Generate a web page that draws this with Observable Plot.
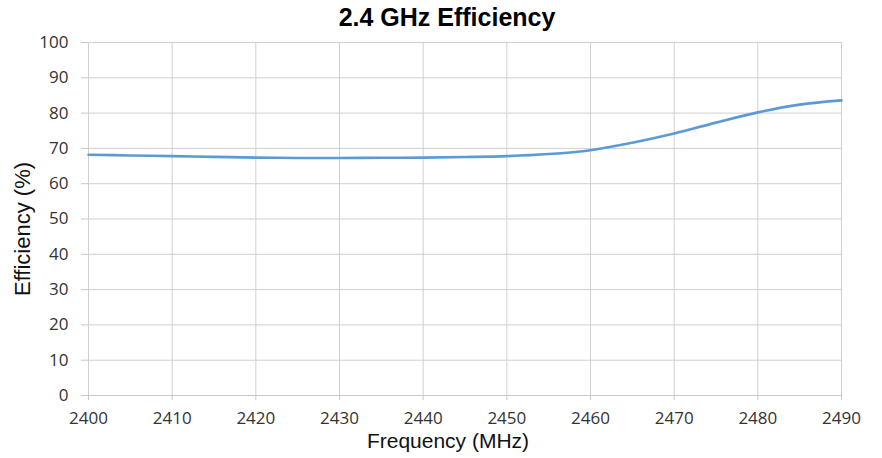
<!DOCTYPE html>
<html>
<head>
<meta charset="utf-8">
<script src="https://cdn.jsdelivr.net/npm/d3@7"></script>
<script src="https://cdn.jsdelivr.net/npm/@observablehq/plot@0.6"></script>
<style>
  html, body { margin: 0; padding: 0; background: #fff; }
  #chart { width: 882px; height: 458px; }
</style>
</head>
<body>
<div id="chart"></div>
<script>
const frequency = [2400, 2405, 2410, 2415, 2420, 2425, 2430, 2435, 2440, 2445, 2450, 2455, 2460, 2465, 2470, 2475, 2480, 2485, 2490];
const efficiency = [68.2, 68.0, 67.8, 67.6, 67.4, 67.3, 67.3, 67.35, 67.4, 67.55, 67.8, 68.4, 69.5, 71.6, 74.2, 77.3, 80.2, 82.4, 83.6];
const xTicks = [2400, 2410, 2420, 2430, 2440, 2450, 2460, 2470, 2480, 2490];
const yTicks = [0, 10, 20, 30, 40, 50, 60, 70, 80, 90, 100];
const title = "2.4 GHz Efficiency";
const xLabel = "Frequency (MHz)";
const yLabel = "Efficiency (%)";

const data = frequency.map((f, i) => ({f, e: efficiency[i]}));

const chart = Plot.plot({
  width: 882,
  height: 458,
  marginTop: 42,
  marginBottom: 63,
  marginLeft: 88,
  marginRight: 41,
  style: {fontFamily: "'Open Sans', 'Liberation Sans', Arial, sans-serif", fontSize: "17px", color: "#333", background: "#fff"},
  x: {domain: [2400, 2490], ticks: xTicks, tickFormat: "d", label: null},
  y: {domain: [0, 100], ticks: yTicks, label: null},
  marks: [
    Plot.gridX(xTicks, {stroke: "#d0d0d0", strokeOpacity: 1, strokeWidth: 1}),
    Plot.gridY(yTicks, {stroke: "#d0d0d0", strokeOpacity: 1, strokeWidth: 1}),
    Plot.axisX({ticks: xTicks, tickFormat: "d", tickSize: 5, tickPadding: 11, stroke: "#c8c8c8", fontSize: 17, fill: "#333", label: null}),
    Plot.axisY({ticks: yTicks, tickSize: 7, tickPadding: 13, stroke: "#c8c8c8", fontSize: 17, fill: "#333", label: null}),
    Plot.ruleY([0], {stroke: "#c8c8c8"}),
    Plot.line(data, {x: "f", y: "e", stroke: "#5b9bd5", strokeWidth: 2.6, curve: "catmull-rom"}),
    Plot.text([title], {frameAnchor: "top", lineAnchor: "middle", textAnchor: "middle", dx: -18, dy: -25, fontSize: 25, fontWeight: "bold", fill: "#000", fontFamily: "'Liberation Sans', Arial, sans-serif"}),
    Plot.text([xLabel], {frameAnchor: "bottom", lineAnchor: "middle", textAnchor: "middle", dx: -17, dy: 46, fontSize: 21, fill: "#111", fontFamily: "'Liberation Sans', Arial, sans-serif"}),
    Plot.text([yLabel], {frameAnchor: "left", lineAnchor: "middle", textAnchor: "middle", dx: -66, dy: 10, rotate: -90, fontSize: 22, fill: "#111", fontFamily: "'Liberation Sans', Arial, sans-serif"})
  ]
});
document.getElementById("chart").appendChild(chart);
</script>
</body>
</html>
